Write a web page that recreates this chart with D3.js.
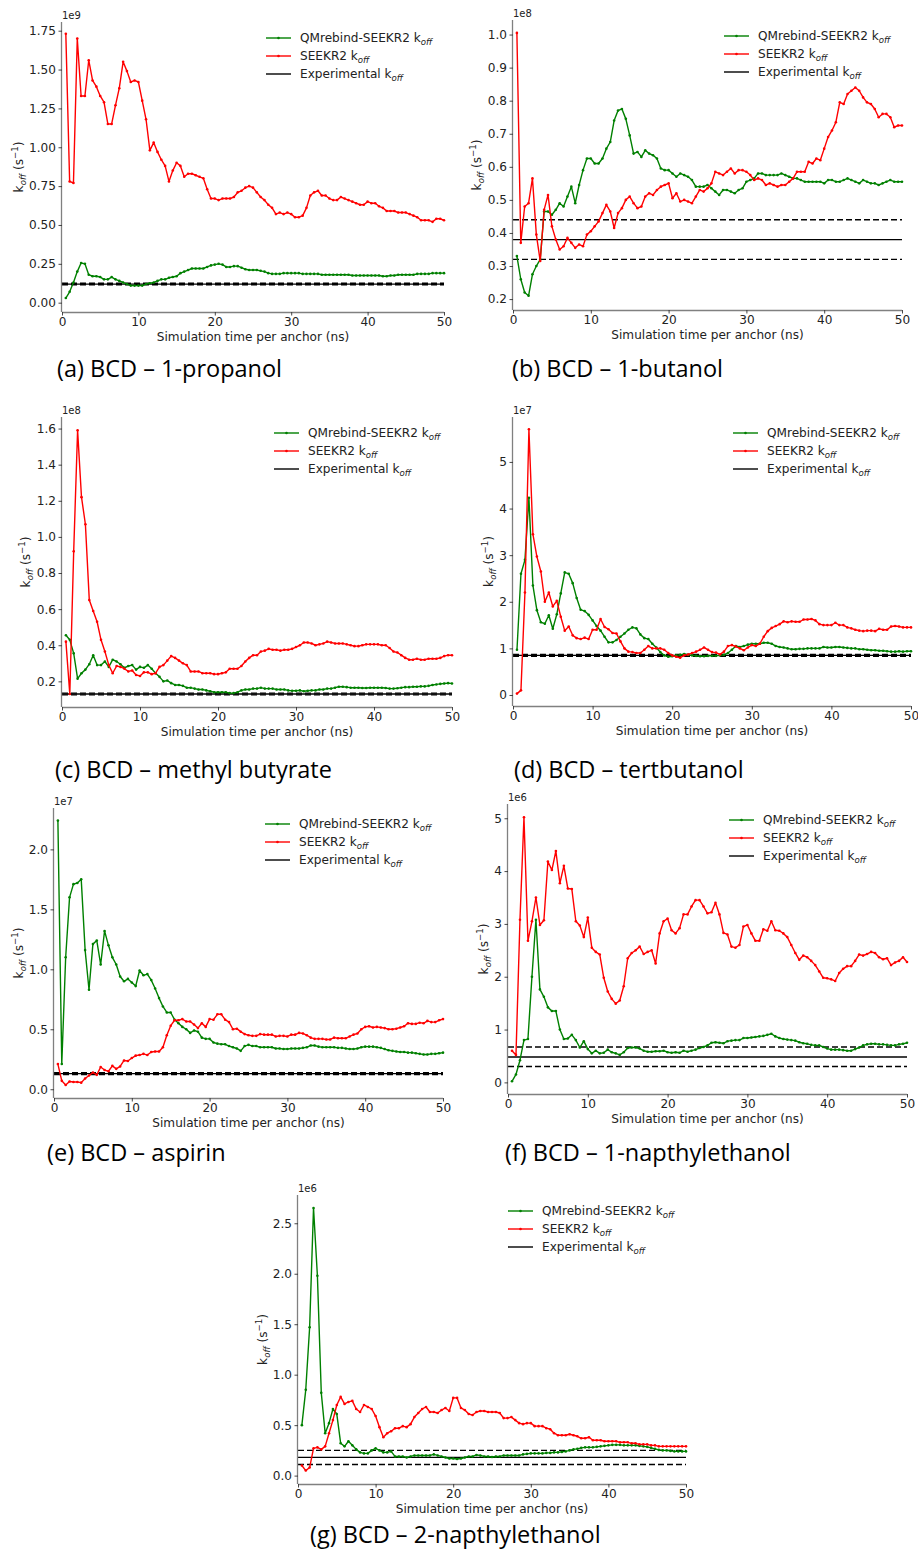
<!DOCTYPE html>
<html>
<head>
<meta charset="utf-8">
<script src="https://cdn.jsdelivr.net/npm/d3@7"></script>
<style>
  body { margin: 0; background: #fff; }
  svg text { font-family: "DejaVu Sans", sans-serif; fill: #222; }
  .caption { font-family: "Open Sans", "Lato", sans-serif; fill: #000; }
</style>
</head>
<body>
<svg id="fig" width="918" height="1551"></svg>
<script>
// simulation time per anchor (ns), one sample every 0.5 ns
var timeNs = [0.5,1,1.5,2,2.5,3,3.5,4,4.5,5,5.5,6,6.5,7,7.5,8,8.5,9,9.5,10,
  10.5,11,11.5,12,12.5,13,13.5,14,14.5,15,15.5,16,16.5,17,17.5,18,18.5,19,19.5,20,
  20.5,21,21.5,22,22.5,23,23.5,24,24.5,25,25.5,26,26.5,27,27.5,28,28.5,29,29.5,30,
  30.5,31,31.5,32,32.5,33,33.5,34,34.5,35,35.5,36,36.5,37,37.5,38,38.5,39,39.5,40,
  40.5,41,41.5,42,42.5,43,43.5,44,44.5,45,45.5,46,46.5,47,47.5,48,48.5,49,49.5,50];

var captions = ["(a) BCD \u2013 1-propanol", "(b) BCD \u2013 1-butanol",
  "(c) BCD \u2013 methyl butyrate", "(d) BCD \u2013 tertbutanol",
  "(e) BCD \u2013 aspirin", "(f) BCD \u2013 1-napthylethanol",
  "(g) BCD \u2013 2-napthylethanol"];
var offsetLabels = ["1e9", "1e8", "1e8", "1e7", "1e7", "1e6", "1e6"];
var seriesNames = ["QMrebind-SEEKR2 k", "SEEKR2 k", "Experimental k"];

// experimental koff and its error band (same units as offset label)
var expValue = [0.12, 0.38, 0.13, 0.85, 0.13, 0.48, 0.18];
var expLow   = [0.115, 0.32, 0.125, 0.83, 0.122, 0.30, 0.11];
var expHigh  = [0.125, 0.44, 0.135, 0.87, 0.138, 0.67, 0.25];

var yTicks = [
  [0, 0.25, 0.5, 0.75, 1.0, 1.25, 1.5, 1.75],
  [0.2, 0.3, 0.4, 0.5, 0.6, 0.7, 0.8, 0.9, 1.0],
  [0.2, 0.4, 0.6, 0.8, 1.0, 1.2, 1.4, 1.6],
  [0, 1, 2, 3, 4, 5],
  [0, 0.5, 1.0, 1.5, 2.0],
  [0, 1, 2, 3, 4, 5],
  [0, 0.5, 1.0, 1.5, 2.0, 2.5]
];
var xTicks = [0, 10, 20, 30, 40, 50];

// (a) 1-propanol
var aQm = [0.03,0.07,0.13,0.20,0.255,0.25,0.18,0.17,0.17,0.165,
  0.15,0.15,0.165,0.15,0.14,0.13,0.12,0.11,0.11,0.11,
  0.11,0.12,0.125,0.13,0.14,0.15,0.15,0.16,0.165,0.17,
  0.19,0.20,0.21,0.22,0.22,0.22,0.22,0.23,0.24,0.245,
  0.25,0.245,0.23,0.23,0.235,0.235,0.225,0.215,0.21,0.21,
  0.21,0.205,0.20,0.19,0.185,0.185,0.185,0.19,0.19,0.19,
  0.19,0.19,0.185,0.185,0.185,0.185,0.185,0.18,0.18,0.18,
  0.18,0.18,0.18,0.18,0.18,0.175,0.175,0.175,0.175,0.175,
  0.175,0.175,0.175,0.17,0.17,0.175,0.175,0.18,0.18,0.18,
  0.18,0.18,0.185,0.185,0.185,0.185,0.19,0.19,0.19,0.19];
var aSeekr = [1.73,0.78,0.77,1.70,1.33,1.33,1.56,1.43,1.39,1.33,
  1.29,1.15,1.15,1.27,1.38,1.55,1.49,1.42,1.43,1.42,
  1.30,1.18,0.98,1.03,0.97,0.92,0.88,0.78,0.85,0.90,
  0.88,0.81,0.83,0.83,0.82,0.81,0.80,0.73,0.67,0.67,
  0.66,0.67,0.67,0.67,0.68,0.71,0.72,0.74,0.75,0.74,
  0.71,0.68,0.66,0.63,0.61,0.57,0.58,0.57,0.58,0.57,
  0.55,0.55,0.56,0.61,0.69,0.71,0.72,0.69,0.69,0.67,
  0.66,0.66,0.68,0.67,0.66,0.65,0.64,0.63,0.63,0.65,
  0.64,0.64,0.62,0.61,0.59,0.59,0.59,0.58,0.58,0.58,
  0.57,0.56,0.55,0.53,0.53,0.53,0.52,0.54,0.54,0.53];

// (b) 1-butanol
var bQm = [0.33,0.26,0.22,0.21,0.275,0.30,0.32,0.465,0.465,0.455,
  0.47,0.49,0.48,0.51,0.54,0.49,0.545,0.59,0.625,0.625,
  0.61,0.61,0.625,0.655,0.675,0.74,0.77,0.775,0.745,0.695,
  0.64,0.645,0.63,0.65,0.64,0.635,0.625,0.595,0.59,0.59,
  0.58,0.57,0.58,0.575,0.57,0.56,0.54,0.54,0.54,0.545,
  0.535,0.525,0.515,0.53,0.53,0.525,0.52,0.53,0.535,0.555,
  0.56,0.565,0.58,0.58,0.575,0.575,0.575,0.575,0.58,0.575,
  0.57,0.565,0.565,0.56,0.555,0.555,0.555,0.555,0.555,0.55,
  0.56,0.56,0.555,0.555,0.56,0.565,0.56,0.555,0.55,0.56,
  0.555,0.55,0.55,0.545,0.55,0.555,0.56,0.555,0.555,0.555];
var bSeekr = [1.005,0.37,0.48,0.49,0.565,0.395,0.315,0.47,0.515,0.42,
  0.38,0.35,0.36,0.385,0.37,0.355,0.365,0.36,0.395,0.405,
  0.42,0.435,0.46,0.485,0.465,0.415,0.46,0.475,0.50,0.51,
  0.49,0.475,0.48,0.51,0.52,0.515,0.53,0.54,0.545,0.55,
  0.505,0.52,0.495,0.50,0.495,0.49,0.51,0.53,0.525,0.535,
  0.55,0.585,0.58,0.575,0.585,0.595,0.58,0.59,0.59,0.585,
  0.575,0.56,0.565,0.56,0.545,0.55,0.545,0.54,0.545,0.545,
  0.555,0.565,0.585,0.585,0.585,0.615,0.61,0.625,0.62,0.655,
  0.69,0.71,0.735,0.795,0.79,0.82,0.83,0.84,0.83,0.81,
  0.795,0.79,0.775,0.75,0.76,0.76,0.75,0.72,0.725,0.725];

// (c) methyl butyrate
var cQm = [0.455,0.43,0.355,0.215,0.245,0.265,0.295,0.345,0.29,0.29,
  0.31,0.28,0.32,0.31,0.295,0.275,0.285,0.29,0.265,0.28,
  0.275,0.29,0.27,0.245,0.225,0.20,0.205,0.19,0.18,0.18,
  0.175,0.165,0.165,0.16,0.155,0.155,0.15,0.145,0.14,0.14,
  0.14,0.14,0.135,0.135,0.14,0.15,0.155,0.155,0.16,0.16,
  0.165,0.16,0.16,0.16,0.155,0.155,0.155,0.15,0.148,0.148,
  0.15,0.145,0.148,0.15,0.15,0.155,0.155,0.16,0.16,0.165,
  0.17,0.17,0.168,0.165,0.165,0.165,0.163,0.163,0.165,0.165,
  0.165,0.165,0.163,0.16,0.16,0.162,0.165,0.168,0.168,0.17,
  0.17,0.172,0.172,0.175,0.18,0.183,0.186,0.188,0.19,0.188];
var cSeekr = [0.42,0.13,0.92,1.59,1.22,1.07,0.65,0.59,0.53,0.43,
  0.365,0.29,0.245,0.285,0.28,0.27,0.255,0.26,0.235,0.23,
  0.25,0.25,0.24,0.245,0.28,0.29,0.315,0.34,0.33,0.315,
  0.30,0.29,0.255,0.255,0.255,0.245,0.245,0.245,0.24,0.24,
  0.245,0.25,0.27,0.27,0.27,0.285,0.31,0.33,0.345,0.345,
  0.365,0.37,0.38,0.375,0.375,0.37,0.375,0.375,0.38,0.39,
  0.40,0.415,0.415,0.41,0.40,0.405,0.41,0.42,0.415,0.41,
  0.41,0.41,0.405,0.40,0.395,0.395,0.40,0.405,0.405,0.405,
  0.405,0.40,0.40,0.385,0.365,0.36,0.345,0.33,0.32,0.32,
  0.325,0.32,0.32,0.325,0.325,0.325,0.33,0.34,0.345,0.345];

// (d) tertbutanol
var dQm = [0.97,2.6,2.9,4.23,2.35,1.82,1.56,1.53,1.71,1.42,
  1.73,2.18,2.63,2.6,2.4,2.08,1.83,1.8,1.72,1.6,
  1.48,1.38,1.25,1.13,1.13,1.18,1.25,1.32,1.4,1.45,
  1.43,1.3,1.22,1.2,1.1,1.02,0.92,0.85,0.82,0.83,
  0.85,0.86,0.88,0.86,0.85,0.84,0.83,0.83,0.84,0.84,
  0.84,0.85,0.86,0.9,0.97,1.05,1.03,1.05,1.08,1.1,
  1.1,1.1,1.12,1.12,1.1,1.05,1.03,1.02,1.0,0.98,
  0.98,0.99,0.99,1.0,1.0,1.0,1.0,1.03,1.02,1.02,
  1.03,1.03,1.02,1.01,1.0,1.0,0.98,0.98,0.97,0.96,
  0.96,0.95,0.95,0.94,0.93,0.93,0.94,0.93,0.94,0.94];
var dSeekr = [0.03,0.1,2.2,5.7,3.45,2.97,2.65,2.0,2.2,1.9,
  2.02,1.68,1.38,1.47,1.28,1.22,1.2,1.23,1.2,1.4,
  1.4,1.63,1.46,1.41,1.33,1.32,1.15,1.0,0.93,0.92,
  0.9,0.9,0.97,1.05,1.0,1.0,1.0,0.97,0.9,0.85,
  0.82,0.8,0.85,0.87,0.9,0.93,0.97,1.02,0.97,0.92,
  0.91,0.87,0.93,1.05,1.07,1.04,1.0,0.96,1.02,1.07,
  1.05,1.1,1.25,1.37,1.44,1.48,1.52,1.58,1.56,1.58,
  1.57,1.57,1.62,1.62,1.63,1.6,1.52,1.5,1.5,1.5,
  1.55,1.5,1.5,1.45,1.43,1.4,1.38,1.37,1.38,1.38,
  1.37,1.42,1.4,1.4,1.47,1.48,1.47,1.45,1.45,1.45];

// (e) aspirin
var eQm = [2.24,0.21,1.1,1.6,1.71,1.72,1.75,1.16,0.83,1.21,
  1.24,1.04,1.32,1.2,1.1,1.04,0.94,0.9,0.92,0.89,
  0.86,0.99,0.95,0.96,0.91,0.84,0.76,0.69,0.64,0.64,
  0.58,0.55,0.52,0.5,0.47,0.49,0.48,0.43,0.42,0.42,
  0.39,0.38,0.375,0.375,0.36,0.35,0.34,0.32,0.36,0.37,
  0.36,0.36,0.35,0.35,0.35,0.35,0.34,0.34,0.335,0.335,
  0.34,0.34,0.34,0.345,0.35,0.365,0.365,0.355,0.35,0.35,
  0.35,0.35,0.345,0.345,0.34,0.335,0.335,0.34,0.35,0.355,
  0.355,0.355,0.35,0.345,0.335,0.325,0.32,0.315,0.31,0.31,
  0.305,0.305,0.3,0.295,0.29,0.29,0.295,0.295,0.3,0.305];
var eSeekr = [0.21,0.07,0.035,0.065,0.06,0.06,0.055,0.09,0.115,0.14,
  0.12,0.185,0.16,0.15,0.195,0.17,0.19,0.24,0.235,0.26,
  0.28,0.285,0.295,0.285,0.31,0.315,0.315,0.35,0.45,0.53,
  0.575,0.575,0.585,0.565,0.565,0.54,0.51,0.55,0.52,0.585,
  0.58,0.625,0.625,0.58,0.56,0.5,0.505,0.48,0.46,0.45,
  0.445,0.445,0.46,0.455,0.455,0.455,0.44,0.445,0.445,0.44,
  0.455,0.455,0.47,0.465,0.45,0.43,0.42,0.42,0.42,0.415,
  0.415,0.43,0.425,0.425,0.425,0.44,0.455,0.465,0.5,0.52,
  0.525,0.515,0.52,0.515,0.51,0.5,0.5,0.505,0.515,0.525,
  0.55,0.545,0.545,0.555,0.55,0.57,0.56,0.56,0.575,0.585];

// (f) 1-napthylethanol
var fQm = [0.02,0.15,0.42,0.8,0.82,2.0,3.08,1.76,1.62,1.42,
  1.35,1.35,1.0,0.82,0.83,0.9,0.8,0.66,0.78,0.63,
  0.55,0.6,0.55,0.56,0.62,0.57,0.55,0.52,0.57,0.65,
  0.66,0.66,0.64,0.6,0.58,0.58,0.59,0.59,0.6,0.57,
  0.56,0.57,0.56,0.6,0.58,0.6,0.62,0.65,0.67,0.7,
  0.75,0.76,0.75,0.74,0.78,0.79,0.8,0.8,0.84,0.84,
  0.85,0.86,0.87,0.88,0.9,0.92,0.87,0.84,0.82,0.81,
  0.8,0.79,0.76,0.74,0.73,0.71,0.7,0.7,0.67,0.64,
  0.62,0.62,0.62,0.61,0.6,0.6,0.63,0.66,0.7,0.72,
  0.73,0.73,0.72,0.72,0.71,0.7,0.7,0.72,0.73,0.75];
var fSeekr = [0.6,0.52,3.08,5.02,2.68,3.05,3.5,2.98,3.07,4.18,
  4.02,4.38,3.77,4.1,3.67,3.66,3.05,2.97,2.75,3.12,
  2.55,2.47,2.42,1.98,1.72,1.58,1.49,1.55,1.82,2.35,
  2.45,2.5,2.57,2.43,2.47,2.5,2.25,2.82,3.05,3.1,
  2.88,2.82,2.92,3.18,3.18,3.33,3.45,3.45,3.33,3.2,
  3.22,3.4,3.18,2.83,2.8,2.57,2.55,2.6,2.95,2.98,
  2.82,2.68,2.68,2.9,2.87,3.05,2.88,2.87,2.82,2.75,
  2.6,2.45,2.32,2.4,2.37,2.3,2.22,2.1,1.98,1.97,
  1.95,1.92,2.07,2.15,2.2,2.2,2.3,2.42,2.4,2.43,
  2.47,2.45,2.37,2.33,2.35,2.22,2.27,2.3,2.37,2.28];

// (g) 2-napthylethanol
var gQm = [0.5,0.85,1.47,2.65,1.98,0.82,0.42,0.52,0.66,0.61,
  0.32,0.29,0.34,0.3,0.26,0.23,0.22,0.22,0.25,0.27,
  0.25,0.23,0.23,0.24,0.19,0.19,0.19,0.18,0.19,0.2,
  0.2,0.2,0.2,0.2,0.21,0.2,0.19,0.18,0.17,0.17,
  0.165,0.17,0.18,0.19,0.19,0.205,0.2,0.19,0.19,0.185,
  0.19,0.19,0.2,0.2,0.2,0.2,0.2,0.21,0.215,0.22,
  0.22,0.22,0.22,0.225,0.225,0.23,0.23,0.235,0.24,0.25,
  0.26,0.265,0.275,0.28,0.28,0.28,0.285,0.29,0.295,0.3,
  0.305,0.305,0.305,0.3,0.3,0.3,0.3,0.295,0.29,0.285,
  0.275,0.265,0.255,0.25,0.25,0.245,0.24,0.24,0.24,0.24];
var gSeekr = [0.1,0.05,0.08,0.27,0.28,0.26,0.29,0.42,0.55,0.7,
  0.78,0.71,0.73,0.74,0.66,0.63,0.7,0.68,0.66,0.59,
  0.48,0.38,0.42,0.44,0.47,0.47,0.49,0.48,0.51,0.58,
  0.62,0.66,0.68,0.63,0.63,0.62,0.65,0.67,0.64,0.77,
  0.77,0.67,0.65,0.61,0.6,0.63,0.64,0.64,0.63,0.63,
  0.63,0.62,0.57,0.57,0.58,0.55,0.52,0.51,0.52,0.52,
  0.49,0.49,0.49,0.47,0.46,0.42,0.4,0.4,0.4,0.41,
  0.4,0.39,0.37,0.37,0.38,0.35,0.35,0.35,0.34,0.34,
  0.34,0.34,0.33,0.33,0.33,0.32,0.32,0.31,0.31,0.31,
  0.3,0.3,0.29,0.29,0.29,0.29,0.29,0.29,0.29,0.29];

var qmSeries = [aQm, bQm, cQm, dQm, eQm, fQm, gQm];
var seekrSeries = [aSeekr, bSeekr, cSeekr, dSeekr, eSeekr, fSeekr, gSeekr];

// panel placement in the figure (pixels) and y extent of each axes
var panels = [
  {l: 62,  r: 444, t: 22,  b: 312,  y0: -0.06,  y1: 1.806, fmt: ".2f", cx: 57,  cy: 377},
  {l: 513, r: 902, t: 20,  b: 310,  y0: 0.167,  y1: 1.044, fmt: ".1f", cx: 512, cy: 377},
  {l: 62,  r: 452, t: 417, b: 707,  y0: 0.058,  y1: 1.664, fmt: ".1f", cx: 55,  cy: 778},
  {l: 513, r: 911, t: 417, b: 706,  y0: -0.236, y1: 5.964, fmt: "d",   cx: 514, cy: 778},
  {l: 54,  r: 443, t: 808, b: 1098, y0: -0.073, y1: 2.345, fmt: ".1f", cx: 47,  cy: 1161},
  {l: 508, r: 907, t: 804, b: 1094, y0: -0.22,  y1: 5.27,  fmt: "d",   cx: 505, cy: 1161},
  {l: 298, r: 686, t: 1195, b: 1484, y0: -0.083, y1: 2.78, fmt: ".1f", cx: 310, cy: 1543}
];

var GREEN = "#008000", RED = "#ff0000";
var FS = 12.1;
var svg = d3.select("#fig");

panels.forEach(function(p, i) {
  var x = d3.scaleLinear().domain([0, 50]).range([p.l, p.r]);
  var y = d3.scaleLinear().domain([p.y0, p.y1]).range([p.b, p.t]);
  var g = svg.append("g");

  // experimental value (solid) and its bounds (dashed)
  g.append("line").attr("x1", x(0)).attr("x2", x(50))
    .attr("y1", y(expValue[i])).attr("y2", y(expValue[i]))
    .attr("stroke", "#000").attr("stroke-width", 1.3);
  [expLow[i], expHigh[i]].forEach(function(v) {
    g.append("line").attr("x1", x(0)).attr("x2", x(50))
      .attr("y1", y(v)).attr("y2", y(v))
      .attr("stroke", "#000").attr("stroke-width", 1.4)
      .attr("stroke-dasharray", "6,3");
  });

  var line = d3.line().x(function(d, j) { return x(timeNs[j]); })
                      .y(function(d) { return y(d); });

  [[qmSeries[i], GREEN], [seekrSeries[i], RED]].forEach(function(s) {
    g.append("path").datum(s[0]).attr("d", line)
      .attr("fill", "none").attr("stroke", s[1]).attr("stroke-width", 1.4)
      .attr("stroke-linejoin", "round");
    g.selectAll(null).data(s[0]).enter().append("circle")
      .attr("cx", function(d, j) { return x(timeNs[j]); })
      .attr("cy", function(d) { return y(d); })
      .attr("r", 1.3).attr("fill", s[1]);
  });

  // axes
  var xAxis = g.append("g").attr("transform", "translate(0," + p.b + ")")
    .call(d3.axisBottom(x).tickValues(xTicks).tickSize(3.5).tickPadding(2));
  var yAxis = g.append("g").attr("transform", "translate(" + p.l + ",0)")
    .call(d3.axisLeft(y).tickValues(yTicks[i]).tickSize(3.5).tickPadding(2.5)
      .tickFormat(d3.format(p.fmt)));
  [xAxis, yAxis].forEach(function(a) {
    a.selectAll("text").attr("font-size", FS).attr("font-family", "DejaVu Sans").attr("fill", "#222");
    a.selectAll(".tick line").attr("stroke", "#333").attr("stroke-width", 0.9);
    a.select(".domain").attr("stroke", "#808080").attr("stroke-width", 1.3);
  });
  yAxis.select(".domain").attr("d", "M-0.5," + p.b + "V" + p.t);
  xAxis.select(".domain").attr("d", "M" + p.l + ",0.5H" + p.r);

  // offset text
  g.append("text").attr("x", p.l).attr("y", p.t - 3)
    .attr("font-size", 10).attr("fill", "#333").text(offsetLabels[i]);

  // axis labels
  g.append("text").attr("x", (p.l + p.r) / 2).attr("y", p.b + 29)
    .attr("text-anchor", "middle").attr("font-size", FS)
    .text("Simulation time per anchor (ns)");

  var tickW = 0;
  yAxis.selectAll("text").each(function() { tickW = Math.max(tickW, this.getBBox().width); });
  var yl = g.append("text")
    .attr("transform", "translate(" + (p.l - 6 - tickW - 6) + "," + ((p.t + p.b) / 2) + ") rotate(-90)")
    .attr("text-anchor", "middle").attr("font-size", FS);
  yl.append("tspan").text("k");
  yl.append("tspan").attr("font-size", 8.6).attr("font-style", "italic").attr("dy", 3).text("off");
  yl.append("tspan").attr("dy", -3).text(" (s");
  yl.append("tspan").attr("font-size", 8.6).attr("dy", -5).text("\u22121");
  yl.append("tspan").attr("dy", 5).text(")");

  // legend
  var lx = p.r - 178;
  [GREEN, RED, "#000"].forEach(function(c, k) {
    var ly = p.t + 16 + k * 18;
    g.append("line").attr("x1", lx).attr("x2", lx + 25).attr("y1", ly).attr("y2", ly)
      .attr("stroke", c).attr("stroke-width", 1.4);
    if (k < 2) g.append("circle").attr("cx", lx + 12.5).attr("cy", ly).attr("r", 1.3).attr("fill", c);
    var t = g.append("text").attr("x", lx + 34).attr("y", ly + 4.3).attr("font-size", FS);
    t.append("tspan").text(seriesNames[k]);
    t.append("tspan").attr("font-size", 8.6).attr("font-style", "italic").attr("dy", 3).text("off");
  });

  // caption
  svg.append("text").attr("class", "caption").attr("x", p.cx).attr("y", p.cy)
    .attr("font-size", 23).text(captions[i]);
});

// size the captions so (a) spans the same width as in the figure
var capNodes = svg.selectAll(".caption").nodes();
var capScale = 243 / capNodes[0].getComputedTextLength();
svg.selectAll(".caption").attr("font-size", Math.min(23 * capScale, 23.5));
</script>
</body>
</html>
